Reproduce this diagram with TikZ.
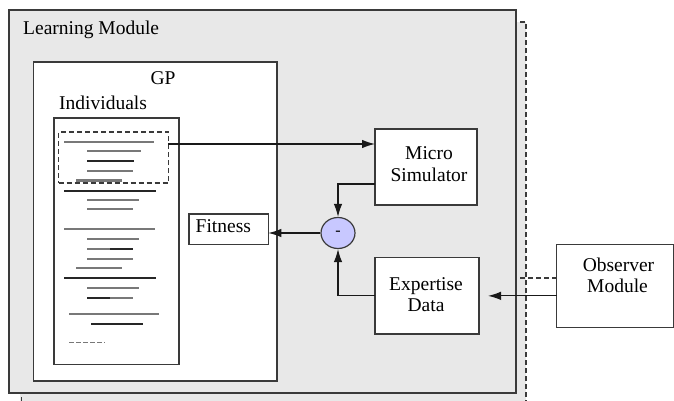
\documentclass[tikz,border=0pt]{standalone}
\usepackage{fontspec}
\setmainfont{Liberation Serif}
\usetikzlibrary{arrows.meta,shapes.geometric}
\definecolor{bggray}{HTML}{E8E8E8}
\definecolor{edge}{HTML}{3A3A3A}
\definecolor{diffblue}{HTML}{C8C8FF}
\definecolor{glines}{HTML}{787878}
\begin{document}
\begin{tikzpicture}[x=1pt,y=-1pt,
  box/.style={draw=edge, line width=1.2pt, inner sep=0pt, outer sep=0pt, anchor=north west},
  lbl/.style={inner sep=0pt, font=\fontsize{19.5}{22}\selectfont},
  arr/.style={draw=black!90, line width=1.2pt, -{Latex[length=13pt,width=8.5pt]}},
  gl/.style={glines, line width=2.1pt},
  bl/.style={black!85, line width=1.9pt},
  dsh/.style={draw=edge, line width=1.2pt, dash pattern=on 5pt off 3pt}]
\useasboundingbox (0,0) rectangle (674,401);
% background shadow area with dashed edge
\fill[bggray] (20,22) rectangle (526,401);
\draw[dsh] (520,22) -- (526,22) -- (526,401);
\draw[edge, line width=1pt] (21,397) -- (21,401);
% Learning module
\node[box, fill=bggray, minimum width=507pt, minimum height=383pt] (lm) at (9,10) {};
\node[lbl, anchor=base west] (lmt) at (23,35) {Learning Module};
% GP box
\node[box, fill=white, minimum width=243.5pt, minimum height=319pt] (gp) at (33.5,62) {};
\node[lbl, anchor=base] (gpt) at (163,85) {GP};
\node[lbl, anchor=base west] (indt) at (59,110) {Individuals};
% Individuals box
\node[box, fill=white, minimum width=125pt, minimum height=246.5pt] (ind) at (54,118) {};
\node[box, dsh, minimum width=110pt, minimum height=51pt] (sel) at (58.5,132) {};
% program lines
\draw[gl] (64,141.7) -- (154,141.7);
\draw[gl] (87,151) -- (141,151);
\draw[bl] (87,161) -- (134,161);
\draw[gl] (87,171) -- (133,171);
\draw[gl] (76,180.5) -- (122,180.5);
\draw[bl] (64,190.7) -- (156,190.7);
\draw[gl] (87,200) -- (139,200);
\draw[gl] (87,209) -- (133,209);
\draw[gl] (64,229.3) -- (155,229.3);
\draw[gl] (87,239) -- (139,239);
\draw[gl] (87,249) -- (110,249);
\draw[bl] (110,249) -- (133,249);
\draw[gl] (87,258.7) -- (133,258.7);
\draw[gl] (76,268.3) -- (122,268.3);
\draw[bl] (64,278.3) -- (156,278.3);
\draw[gl] (87,288) -- (139,288);
\draw[bl] (87,297.7) -- (110,297.7);
\draw[gl] (110,297.7) -- (133,297.7);
\draw[gl] (69,314) -- (159,314);
\draw[bl] (91,323.7) -- (143,323.7);
\draw[glines, line width=1.4pt, dash pattern=on 5pt off 2pt] (69,342.7) -- (105,342.7);
% Fitness
\node[box, fill=white, minimum width=79.3pt, minimum height=30.3pt] (fit) at (189,214) {};
\node[lbl, anchor=base west] (fitt) at (195.5,232) {Fitness};
% Micro simulator
\node[box, fill=white, minimum width=102pt, minimum height=76pt] (ms) at (375,129) {};
\node[lbl, anchor=base] (mst1) at (429,159) {Micro};
\node[lbl, anchor=base] (mst2) at (429,181) {Simulator};
% Expertise data
\node[box, fill=white, minimum width=104pt, minimum height=76.3pt] (ed) at (375,257.7) {};
\node[lbl, anchor=base] (edt1) at (426,290) {Expertise};
\node[lbl, anchor=base] (edt2) at (426,311) {Data};
% Observer module
\node[box, fill=white, minimum width=116.8pt, minimum height=83.4pt] (obs) at (556.7,244.3) {};
\node[lbl, anchor=base] (obst1) at (618.5,271) {Observer};
\node[lbl, anchor=base] (obst2) at (617.5,292.3) {Module};
% difference ellipse
\node[ellipse, draw=edge, fill=diffblue, line width=1.2pt, minimum width=34pt, minimum height=31pt, inner sep=0pt, font=\fontsize{16}{16}\selectfont] (diff) at (338,233) {-};
% connectors
\coordinate (selout) at (168,144);
\draw[arr] (selout) -- (selout -| ms.west);
\draw[arr] (ms.south west) ++(0,-21) -| (diff.north);
\draw[arr] (ed.west) -| (diff.south);
\draw[arr] (diff.west) -- (diff.west -| fit.east);
\path (ed.east) ++(9,0) coordinate (edin);
\draw[arr] (edin -| obs.west) -- (edin);
\path (obs.west) ++(0,-8) coordinate (dobs);
\draw[edge, line width=1.2pt, dash pattern=on 5pt off 3pt] (dobs) -- (dobs -| lm.east);
\end{tikzpicture}
\end{document}
